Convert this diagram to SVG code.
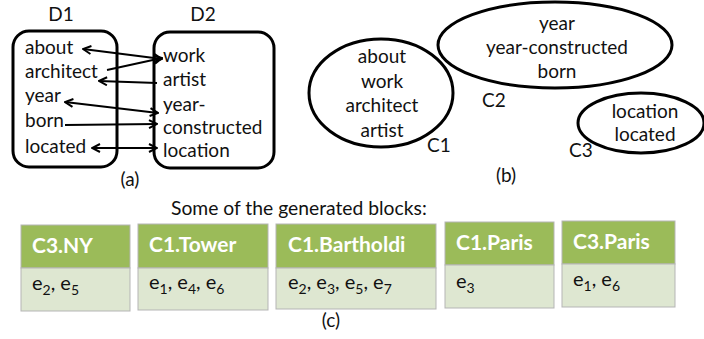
<svg xmlns="http://www.w3.org/2000/svg" width="704" height="339" viewBox="0 0 704 339">
  <style>
    text { font-family: Lato, "Open Sans", "Liberation Sans", sans-serif; fill: #111; }
    .lbl { font-size: 19px; }
    .cap { font-size: 19px; text-anchor: middle; }
    .mid { text-anchor: middle; }
    .box { fill: #fff; stroke: #000; stroke-width: 3; }
    .clu { fill: #fff; stroke: #000; stroke-width: 3; }
    .link { fill: none; stroke: #000; stroke-width: 2; }
    .hdr { fill: #9bbb59; stroke: #b5b5b5; stroke-width: 1; }
    .body { fill: #dee7d1; stroke: #b5b5b5; stroke-width: 1; }
    .htxt { font-size: 21px; font-weight: bold; fill: #fff; }
    .btxt { font-size: 20px; }
    .sub { font-size: 14px; }
  </style>
  <defs>
    <marker id="head" viewBox="0 0 10 10" refX="9" refY="5" markerWidth="10" markerHeight="10" markerUnits="userSpaceOnUse" orient="auto-start-reverse">
      <polyline points="1,1 9,5 1,9" fill="none" stroke="#000" stroke-width="2"/>
    </marker>
  </defs>

  <!-- (a) two schemas -->
  <g id="d1">
    <text class="cap" x="61" y="21">D1</text>
    <rect class="box" x="13" y="31" width="104" height="136" rx="16"/>
    <text class="lbl" x="25" y="54">about</text>
    <text class="lbl" x="25" y="78">architect</text>
    <text class="lbl" x="25" y="102">year</text>
    <text class="lbl" x="25" y="127">born</text>
    <text class="lbl" x="25" y="153">located</text>
  </g>
  <g id="d2">
    <text class="cap" x="203" y="21">D2</text>
    <rect class="box" x="154" y="32" width="120" height="136" rx="16"/>
    <text class="lbl" x="163" y="62">work</text>
    <text class="lbl" x="163" y="86">artist</text>
    <text class="lbl" x="163" y="111">year-</text>
    <text class="lbl" x="163" y="134">constructed</text>
    <text class="lbl" x="163" y="157">location</text>
  </g>
  <g id="links">
    <line class="link" x1="83" y1="49" x2="162" y2="59" marker-start="url(#head)" marker-end="url(#head)"/>
    <line class="link" x1="107" y1="70" x2="162" y2="58" marker-end="url(#head)"/>
    <line class="link" x1="157" y1="83" x2="99" y2="81" marker-end="url(#head)"/>
    <line class="link" x1="65" y1="102" x2="158" y2="113" marker-start="url(#head)" marker-end="url(#head)"/>
    <line class="link" x1="65" y1="125" x2="157" y2="124" marker-end="url(#head)"/>
    <line class="link" x1="92" y1="148" x2="157" y2="148" marker-start="url(#head)" marker-end="url(#head)"/>
  </g>
  <text class="cap" x="130" y="186">(a)</text>

  <!-- (b) clusters -->
  <g id="c1">
    <ellipse class="clu" cx="381" cy="93" rx="72" ry="54"/>
    <text class="lbl mid" x="382" y="63">about</text>
    <text class="lbl mid" x="382" y="88">work</text>
    <text class="lbl mid" x="382" y="112">architect</text>
    <text class="lbl mid" x="382" y="137">artist</text>
    <text class="lbl" x="427" y="152">C1</text>
  </g>
  <g id="c2">
    <ellipse class="clu" cx="555" cy="45" rx="117" ry="43"/>
    <text class="lbl mid" x="557" y="30">year</text>
    <text class="lbl mid" x="557" y="54">year-constructed</text>
    <text class="lbl mid" x="557" y="78">born</text>
    <text class="lbl" x="482" y="107">C2</text>
  </g>
  <g id="c3">
    <ellipse class="clu" cx="641" cy="123" rx="63" ry="30"/>
    <text class="lbl mid" x="645" y="118">location</text>
    <text class="lbl mid" x="645" y="141">located</text>
    <text class="lbl" x="569" y="157">C3</text>
  </g>
  <text class="cap" x="506" y="182">(b)</text>

  <!-- (c) generated blocks -->
  <text class="lbl" x="171" y="215" style="font-size:19.3px">Some of  the generated blocks:</text>

  <g id="b-c3ny">
    <rect class="hdr" x="21" y="225" width="109" height="43"/>
    <rect class="body" x="21" y="268" width="109" height="43"/>
    <text class="htxt" x="32" y="253">C3.NY</text>
    <text class="btxt" x="32" y="290">e<tspan class="sub" dy="5">2</tspan><tspan dy="-5">, e</tspan><tspan class="sub" dy="5">5</tspan></text>
  </g>
  <g id="b-c1tower">
    <rect class="hdr" x="138" y="224" width="130" height="44"/>
    <rect class="body" x="138" y="268" width="130" height="42"/>
    <text class="htxt" x="149" y="252">C1.Tower</text>
    <text class="btxt" x="149" y="289">e<tspan class="sub" dy="5">1</tspan><tspan dy="-5">, e</tspan><tspan class="sub" dy="5">4</tspan><tspan dy="-5">, e</tspan><tspan class="sub" dy="5">6</tspan></text>
  </g>
  <g id="b-c1bartholdi">
    <rect class="hdr" x="276" y="224" width="160" height="44"/>
    <rect class="body" x="276" y="268" width="160" height="41"/>
    <text class="htxt" x="288" y="252">C1.Bartholdi</text>
    <text class="btxt" x="288" y="289">e<tspan class="sub" dy="5">2</tspan><tspan dy="-5">, e</tspan><tspan class="sub" dy="5">3</tspan><tspan dy="-5">, e</tspan><tspan class="sub" dy="5">5</tspan><tspan dy="-5">, e</tspan><tspan class="sub" dy="5">7</tspan></text>
  </g>
  <g id="b-c1paris">
    <rect class="hdr" x="445" y="222" width="109" height="43"/>
    <rect class="body" x="445" y="265" width="109" height="43"/>
    <text class="htxt" x="456" y="250">C1.Paris</text>
    <text class="btxt" x="456" y="288">e<tspan class="sub" dy="5">3</tspan></text>
  </g>
  <g id="b-c3paris">
    <rect class="hdr" x="562" y="221" width="113" height="43"/>
    <rect class="body" x="562" y="264" width="113" height="43"/>
    <text class="htxt" x="573" y="249">C3.Paris</text>
    <text class="btxt" x="573" y="286">e<tspan class="sub" dy="5">1</tspan><tspan dy="-5">, e</tspan><tspan class="sub" dy="5">6</tspan></text>
  </g>
  <text class="cap" x="331" y="327">(c)</text>
</svg>
